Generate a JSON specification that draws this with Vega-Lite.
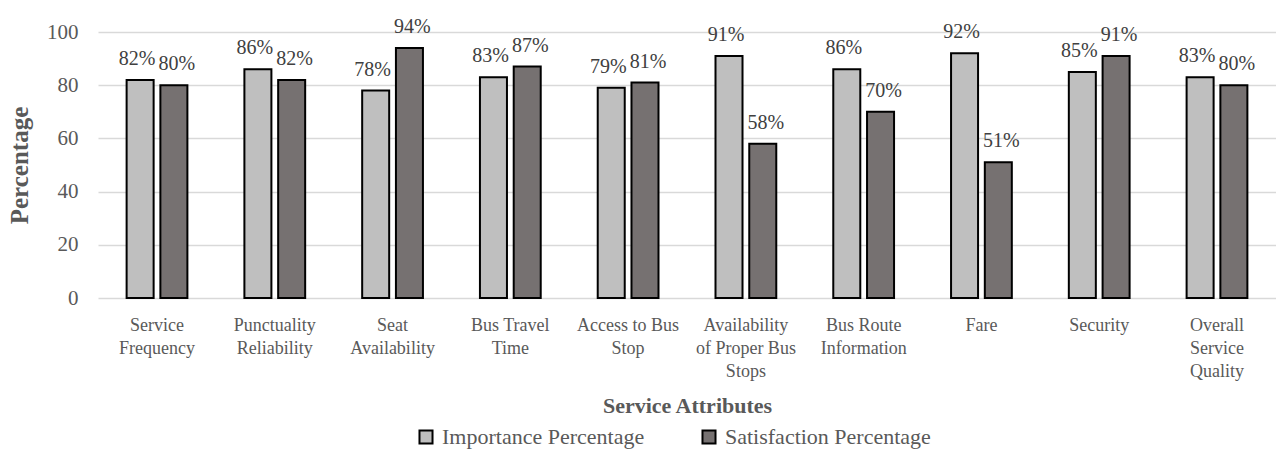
{
  "$schema": "https://vega.github.io/schema/vega-lite/v6.json",
  "width": 1178,
  "height": 266,
  "autosize": {"type": "none"},
  "padding": {"left": 98, "top": 32, "right": 0, "bottom": 152},
  "background": "white",
  "config": {"font": "Liberation Serif", "view": {"stroke": null}},
  "data": {
    "values": [
      {"attribute": "Service Frequency", "series": "Importance Percentage", "value": 82},
      {"attribute": "Service Frequency", "series": "Satisfaction Percentage", "value": 80},
      {"attribute": "Punctuality Reliability", "series": "Importance Percentage", "value": 86},
      {"attribute": "Punctuality Reliability", "series": "Satisfaction Percentage", "value": 82},
      {"attribute": "Seat Availability", "series": "Importance Percentage", "value": 78},
      {"attribute": "Seat Availability", "series": "Satisfaction Percentage", "value": 94},
      {"attribute": "Bus Travel Time", "series": "Importance Percentage", "value": 83},
      {"attribute": "Bus Travel Time", "series": "Satisfaction Percentage", "value": 87},
      {"attribute": "Access to Bus Stop", "series": "Importance Percentage", "value": 79},
      {"attribute": "Access to Bus Stop", "series": "Satisfaction Percentage", "value": 81},
      {"attribute": "Availability of Proper Bus Stops", "series": "Importance Percentage", "value": 91},
      {"attribute": "Availability of Proper Bus Stops", "series": "Satisfaction Percentage", "value": 58},
      {"attribute": "Bus Route Information", "series": "Importance Percentage", "value": 86},
      {"attribute": "Bus Route Information", "series": "Satisfaction Percentage", "value": 70},
      {"attribute": "Fare", "series": "Importance Percentage", "value": 92},
      {"attribute": "Fare", "series": "Satisfaction Percentage", "value": 51},
      {"attribute": "Security", "series": "Importance Percentage", "value": 85},
      {"attribute": "Security", "series": "Satisfaction Percentage", "value": 91},
      {"attribute": "Overall Service Quality", "series": "Importance Percentage", "value": 83},
      {"attribute": "Overall Service Quality", "series": "Satisfaction Percentage", "value": 80}
    ]
  },
  "encoding": {
    "x": {
      "field": "attribute",
      "type": "nominal",
      "sort": null,
      "scale": {"paddingInner": 0.484, "paddingOuter": 0.243},
      "axis": {
        "domain": false,
        "ticks": false,
        "labelAngle": 0,
        "labelFontSize": 18,
        "labelColor": "#595959",
        "labelPadding": 27,
        "labelLineHeight": 23,
        "labelBaseline": "middle",
        "labelExpr": "datum.label == 'Service Frequency' ? ['Service', 'Frequency'] : datum.label == 'Punctuality Reliability' ? ['Punctuality', 'Reliability'] : datum.label == 'Seat Availability' ? ['Seat', 'Availability'] : datum.label == 'Bus Travel Time' ? ['Bus Travel', 'Time'] : datum.label == 'Access to Bus Stop' ? ['Access to Bus', 'Stop'] : datum.label == 'Availability of Proper Bus Stops' ? ['Availability', 'of Proper Bus', 'Stops'] : datum.label == 'Bus Route Information' ? ['Bus Route', 'Information'] : datum.label == 'Overall Service Quality' ? ['Overall', 'Service', 'Quality'] : datum.label",
        "title": "Service Attributes",
        "titleFontSize": 22,
        "titleFontWeight": "bold",
        "titleColor": "#595959",
        "titleBaseline": "alphabetic",
        "titleY": 114
      }
    },
    "xOffset": {
      "field": "series",
      "type": "nominal",
      "sort": ["Importance Percentage", "Satisfaction Percentage"],
      "scale": {"paddingInner": 0.2}
    },
    "y": {
      "field": "value",
      "type": "quantitative",
      "scale": {"domain": [0, 100]},
      "axis": {
        "values": [0, 20, 40, 60, 80, 100],
        "grid": true,
        "gridColor": "#d9d9d9",
        "gridWidth": 1.5,
        "domain": false,
        "ticks": false,
        "labelFontSize": 21,
        "labelColor": "#595959",
        "labelPadding": 20,
        "title": "Percentage",
        "titleFontSize": 25,
        "titleFontWeight": "bold",
        "titleColor": "#595959",
        "titlePadding": 14
      }
    }
  },
  "layer": [
    {
      "mark": {"type": "bar", "stroke": "black", "strokeWidth": 2},
      "encoding": {
        "color": {
          "field": "series",
          "type": "nominal",
          "sort": ["Importance Percentage", "Satisfaction Percentage"],
          "scale": {"domain": ["Importance Percentage", "Satisfaction Percentage"], "range": ["#BFBFBF", "#767171"]},
          "legend": {
            "title": null,
            "orient": "none",
            "direction": "horizontal",
            "legendX": 317,
            "legendY": 394,
            "symbolType": "square",
            "symbolSize": 170,
            "symbolStrokeColor": "black",
            "symbolStrokeWidth": 2,
            "symbolOpacity": 1,
            "labelFontSize": 22,
            "labelLimit": 400,
            "labelColor": "#595959",
            "columnPadding": 53,
            "labelOffset": 5
          }
        }
      }
    },
    {
      "transform": [{"filter": "datum.series == 'Importance Percentage'"}],
      "mark": {
        "type": "text",
        "baseline": "alphabetic",
        "dy": -15,
        "dx": -3,
        "fontSize": 20,
        "color": "#404040",
        "text": {"expr": "datum.value + '%'"}
      }
    },
    {
      "transform": [{"filter": "datum.series == 'Satisfaction Percentage'"}],
      "mark": {
        "type": "text",
        "baseline": "alphabetic",
        "dy": -15,
        "dx": 3,
        "fontSize": 20,
        "color": "#404040",
        "text": {"expr": "datum.value + '%'"}
      }
    }
  ]
}
